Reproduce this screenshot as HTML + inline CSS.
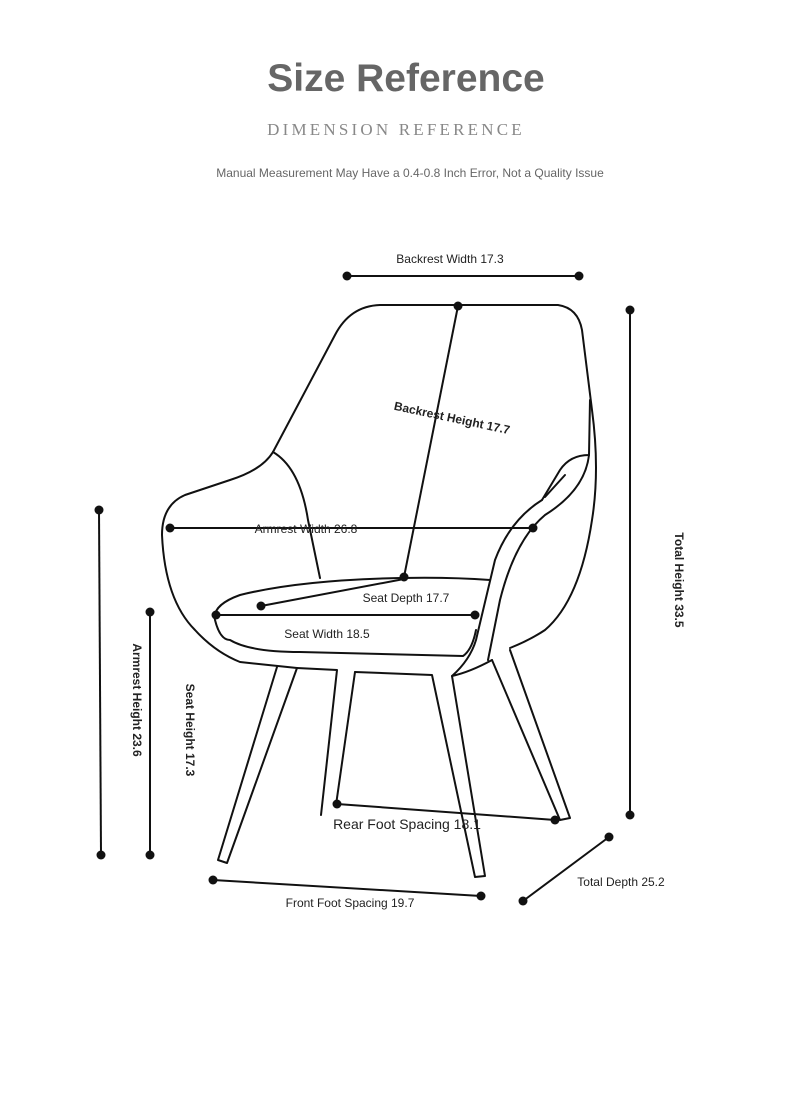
<!DOCTYPE html>
<html><head><meta charset="utf-8"><style>
html,body{margin:0;padding:0;background:#fff;width:790px;height:1108px;overflow:hidden}
</style></head><body>
<svg width="790" height="1108" viewBox="0 0 790 1108" xmlns="http://www.w3.org/2000/svg" style="position:absolute;left:0;top:0">
<text x="406" y="91" text-anchor="middle" font-family="Liberation Sans, sans-serif" font-weight="bold" font-size="39" fill="#666">Size Reference</text>
<text x="396" y="135" text-anchor="middle" font-family="Liberation Serif, serif" font-size="17" letter-spacing="3.2" fill="#888">DIMENSION REFERENCE</text>
<text x="410" y="177" text-anchor="middle" font-family="Liberation Sans, sans-serif" font-size="12" fill="#666">Manual Measurement May Have a 0.4-0.8 Inch Error, Not a Quality Issue</text>

<g fill="none" stroke="#111" stroke-width="2" stroke-linejoin="round" stroke-linecap="round">
<path d="M273,452 L335,335 Q350,306 380,305 L558,305 Q578,308 582,330 L592,410 Q600,470 592,520 Q580,600 545,630 Q530,640 510,648"/>
<path d="M273,452 Q262,470 230,480 L185,495 Q162,505 162,535 Q165,600 195,630 Q215,652 240,662 L297,668"/>
<path d="M273,452 Q300,468 308,520 L320,578"/>
<path d="M490,580 Q450,577 400,578 Q300,580 240,595 Q212,605 215,620 Q220,640 230,640 Q250,652 300,652 L463,656 Q472,650 476,630"/>
<path d="M590,400 L589,455 Q570,455 560,470 L542,500"/>
<path d="M565,475 L545,497"/>
<path d="M589,455 Q585,490 545,515 Q515,540 500,600 L488,660"/>
<path d="M542,500 Q510,520 495,560 L476,640 Q470,660 452,676 Q470,672 492,660"/>
<path d="M277,667 L218,860 L227,863 L297,668"/>
<path d="M297,668 L337,670 L321,815"/>
<path d="M355,672 L336,805"/>
<path d="M355,672 L432,675 L475,877 L485,876 L452,676"/>
<path d="M492,660 L560,820 L570,818 L510,650"/>
</g>

<g stroke="#111" stroke-width="2" fill="none">
<line x1="347" y1="276" x2="579" y2="276"/>
<line x1="458" y1="306" x2="404" y2="577"/>
<line x1="170" y1="528" x2="533" y2="528"/>
<line x1="261" y1="606" x2="404" y2="579"/>
<line x1="216" y1="615" x2="475" y2="615"/>
<line x1="630" y1="310" x2="630" y2="815"/>
<line x1="99" y1="510" x2="101" y2="855"/>
<line x1="150" y1="612" x2="150" y2="855"/>
<line x1="337" y1="804" x2="555" y2="820"/>
<line x1="213" y1="880" x2="481" y2="896"/>
<line x1="523" y1="901" x2="609" y2="837"/>
</g>
<g fill="#111">
<circle cx="347" cy="276" r="4.5"/><circle cx="579" cy="276" r="4.5"/>
<circle cx="458" cy="306" r="4.5"/><circle cx="404" cy="577" r="4.5"/>
<circle cx="170" cy="528" r="4.5"/><circle cx="533" cy="528" r="4.5"/>
<circle cx="261" cy="606" r="4.5"/>
<circle cx="216" cy="615" r="4.5"/><circle cx="475" cy="615" r="4.5"/>
<circle cx="630" cy="310" r="4.5"/><circle cx="630" cy="815" r="4.5"/>
<circle cx="99" cy="510" r="4.5"/><circle cx="101" cy="855" r="4.5"/>
<circle cx="150" cy="612" r="4.5"/><circle cx="150" cy="855" r="4.5"/>
<circle cx="337" cy="804" r="4.5"/><circle cx="555" cy="820" r="4.5"/>
<circle cx="213" cy="880" r="4.5"/><circle cx="481" cy="896" r="4.5"/>
<circle cx="523" cy="901" r="4.5"/><circle cx="609" cy="837" r="4.5"/>
</g>
<g font-family="Liberation Sans, sans-serif" font-size="12" fill="#222">
<text x="450" y="263" text-anchor="middle">Backrest Width 17.3</text>
<text x="452" y="422" text-anchor="middle" font-weight="bold" transform="rotate(12 452 418)">Backrest Height 17.7</text>
<text x="306" y="533" text-anchor="middle">Armrest Width 26.8</text>
<text x="406" y="602" text-anchor="middle">Seat Depth 17.7</text>
<text x="327" y="638" text-anchor="middle">Seat Width 18.5</text>
<text x="675" y="580" text-anchor="middle" font-weight="bold" transform="rotate(90 675 580)">Total Height 33.5</text>
<text x="133" y="700" text-anchor="middle" font-weight="bold" transform="rotate(90 133 700)">Armrest Height 23.6</text>
<text x="186" y="730" text-anchor="middle" font-weight="bold" transform="rotate(90 186 730)">Seat Height 17.3</text>
<text x="407" y="829" text-anchor="middle" font-size="14">Rear Foot Spacing 18.1</text>
<text x="350" y="907" text-anchor="middle">Front Foot Spacing 19.7</text>
<text x="621" y="886" text-anchor="middle">Total Depth 25.2</text>
</g>
</svg>
</body></html>
